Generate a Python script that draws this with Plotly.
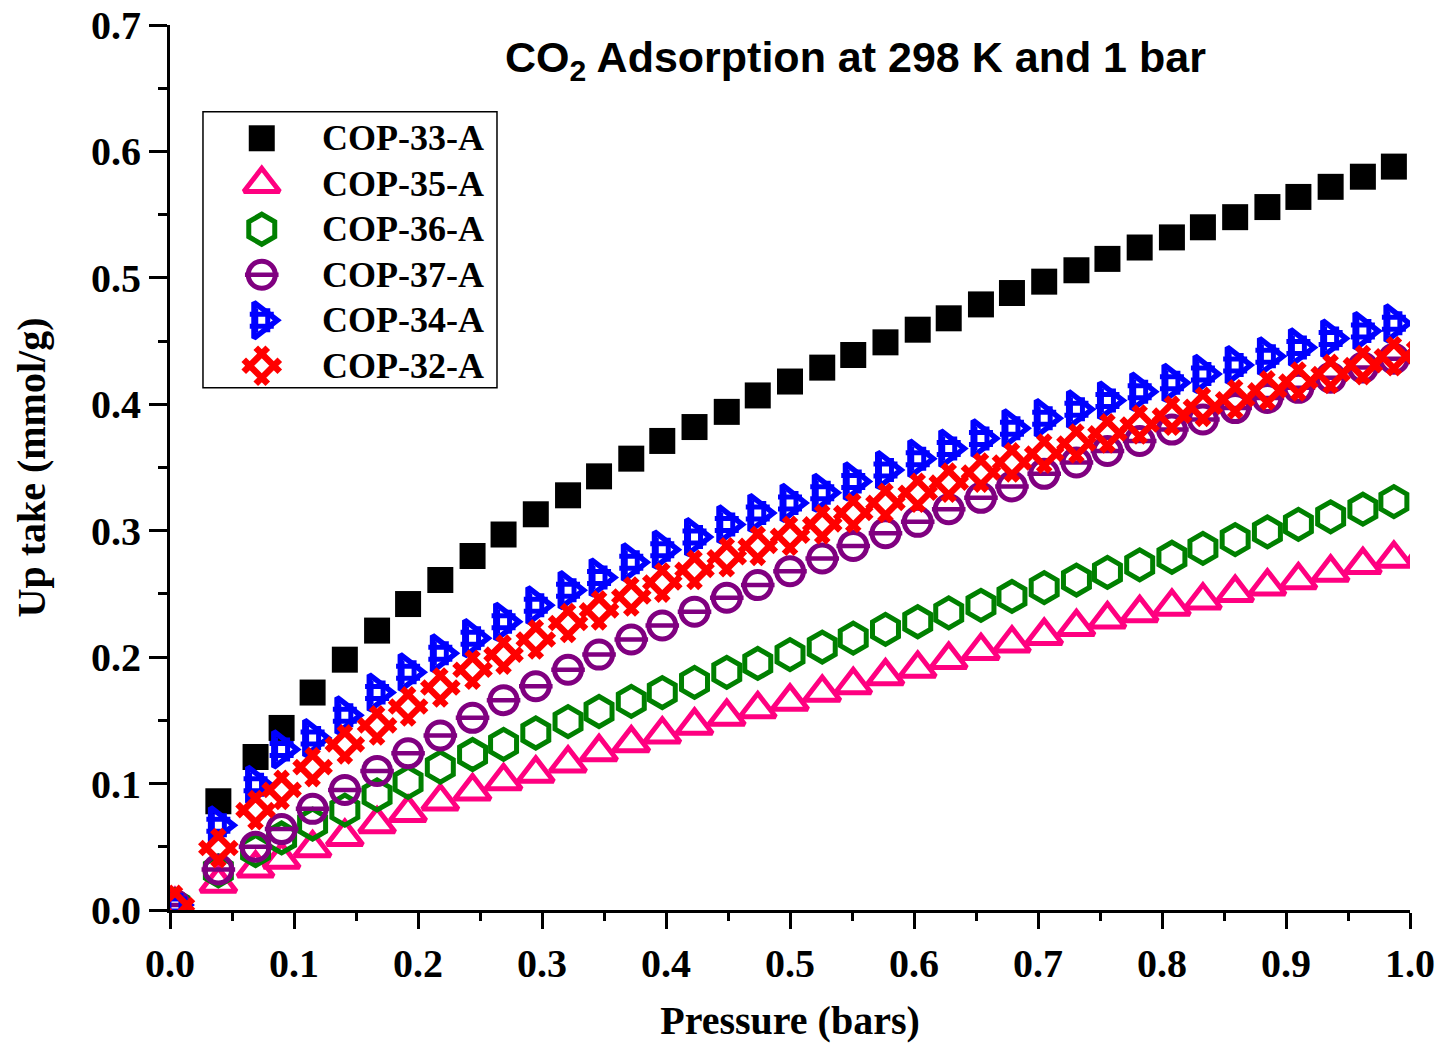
import plotly.graph_objects as go

# CO2 uptake isotherms at 298 K (pressure in bar, uptake in mmol/g)
pressure = [0.004, 0.039, 0.069, 0.090, 0.115, 0.141, 0.167, 0.192, 0.218, 0.244,
            0.269, 0.295, 0.321, 0.346, 0.372, 0.397, 0.423, 0.449, 0.474, 0.500,
            0.526, 0.551, 0.577, 0.603, 0.628, 0.654, 0.679, 0.705, 0.731, 0.756,
            0.782, 0.808, 0.833, 0.859, 0.885, 0.910, 0.936, 0.962, 0.987, 1.013]

cop33 = [0.086, 0.121, 0.144, 0.172, 0.198, 0.221, 0.242, 0.261, 0.280,
         0.297, 0.313, 0.328, 0.343, 0.357, 0.371, 0.382, 0.394, 0.407, 0.418,
         0.429, 0.439, 0.449, 0.459, 0.468, 0.479, 0.488, 0.497, 0.506, 0.515,
         0.524, 0.532, 0.540, 0.548, 0.556, 0.564, 0.572, 0.580, 0.588, 0.596]
cop35 = [0.004, 0.021, 0.033, 0.040, 0.049, 0.058, 0.068, 0.077, 0.086, 0.094,
         0.102, 0.108, 0.116, 0.125, 0.132, 0.139, 0.146, 0.153, 0.159, 0.165,
         0.172, 0.178, 0.185, 0.191, 0.198, 0.205, 0.211, 0.217, 0.224, 0.230,
         0.235, 0.240, 0.245, 0.251, 0.256, 0.261, 0.267, 0.273, 0.278, 0.283]
cop36 = [0.004, 0.031, 0.047, 0.057, 0.068, 0.079, 0.091, 0.101, 0.113, 0.123,
         0.131, 0.140, 0.149, 0.157, 0.165, 0.172, 0.180, 0.188, 0.195, 0.202,
         0.208, 0.215, 0.222, 0.228, 0.235, 0.241, 0.248, 0.255, 0.261, 0.267,
         0.273, 0.279, 0.286, 0.293, 0.299, 0.305, 0.311, 0.317, 0.323, 0.329]
cop37 = [0.004, 0.032, 0.050, 0.064, 0.080, 0.095, 0.110, 0.124, 0.138, 0.152,
         0.166, 0.177, 0.190, 0.202, 0.214, 0.225, 0.236, 0.247, 0.257, 0.268,
         0.278, 0.288, 0.298, 0.307, 0.317, 0.326, 0.335, 0.345, 0.354, 0.363,
         0.371, 0.380, 0.388, 0.397, 0.405, 0.413, 0.421, 0.429, 0.436, 0.443]
cop34 = [0.004, 0.067, 0.099, 0.127, 0.136, 0.154, 0.172, 0.188, 0.203, 0.215,
         0.228, 0.241, 0.253, 0.263, 0.275, 0.285, 0.295, 0.305, 0.314, 0.322,
         0.330, 0.339, 0.348, 0.357, 0.365, 0.373, 0.381, 0.389, 0.396, 0.403,
         0.410, 0.417, 0.424, 0.431, 0.438, 0.445, 0.452, 0.458, 0.464, 0.470]
cop32 = [0.004, 0.049, 0.079, 0.095, 0.113, 0.131, 0.146, 0.161, 0.176, 0.190,
         0.202, 0.214, 0.227, 0.237, 0.248, 0.259, 0.269, 0.279, 0.288, 0.296,
         0.305, 0.314, 0.322, 0.330, 0.338, 0.346, 0.354, 0.361, 0.369, 0.377,
         0.384, 0.391, 0.398, 0.404, 0.411, 0.418, 0.424, 0.431, 0.438, 0.444]

x_ticks = [0.0, 0.1, 0.2, 0.3, 0.4, 0.5, 0.6, 0.7, 0.8, 0.9, 1.0]
y_ticks = [0.0, 0.1, 0.2, 0.3, 0.4, 0.5, 0.6, 0.7]

# Each series: name, x, y, colour, marker layers (symbol, size, line width, angle)
series = [
    ("COP-33-A", pressure[1:], cop33, "#000000", [("square", 26, 0, 0)]),
    ("COP-35-A", pressure, cop35, "#FF0080", [("triangle-up-open", 31, 5, 0)]),
    ("COP-36-A", pressure, cop36, "#008000", [("hexagon-open", 30, 5, 0)]),
    ("COP-37-A", pressure, cop37, "#800080", [("circle-open", 27, 5, 0),
                                               ("line-ew-open", 24, 4.5, 0)]),
    ("COP-34-A", pressure, cop34, "#0000FF", [("triangle-right-open", 31, 5.5, 0),
                                               ("hash-open", 24, 5, 0)]),
    ("COP-32-A", pressure, cop32, "#FF0000", [("hash-open", 34, 6.5, 45)]),
]

fig = go.Figure()

for name, xs, ys, color, layers in series:
    for symbol, size, lw, ang in layers:
        fig.add_trace(go.Scatter(
            x=xs, y=ys, mode="markers", name=name, showlegend=False,
            marker=dict(symbol=symbol, size=size, color=color, angle=ang,
                        line=dict(color=color, width=lw)),
        ))

# Legend keys drawn on a hidden overlay axis spanning the plot area
key_x = 0.074
row_top = 0.872
row_step = 0.0514
for i, (name, xs, ys, color, layers) in enumerate(series):
    ky = row_top - i * row_step
    for symbol, size, lw, ang in layers:
        fig.add_trace(go.Scatter(
            x=[key_x], y=[ky], xaxis="x2", yaxis="y2", mode="markers",
            showlegend=False, hoverinfo="skip",
            marker=dict(symbol=symbol, size=size, color=color, angle=ang,
                        line=dict(color=color, width=lw)),
        ))
    fig.add_annotation(
        x=0.121, y=ky, xref="x2", yref="y2", text=name, showarrow=False,
        xanchor="left", yanchor="middle",
        font=dict(family="Liberation Serif, Times New Roman, serif", size=36,
                  color="black", weight="bold"),
    )

fig.add_shape(type="rect", xref="x2", yref="y2", x0=0.0266, x1=0.2637,
              y0=0.590, y1=0.902, line=dict(color="black", width=1.5),
              fillcolor="rgba(0,0,0,0)", layer="below")

serif_bold = dict(family="Liberation Serif, Times New Roman, serif", size=40,
                  color="black", weight="bold")

fig.add_annotation(
    x=0.553, y=0.960, xref="paper", yref="paper", showarrow=False,
    text="CO<sub>2</sub> Adsorption at 298 K and 1 bar",
    xanchor="center", yanchor="middle",
    font=dict(family="Liberation Sans, Arial, sans-serif", size=43,
              color="black", weight="bold"),
)

axis_common = dict(
    showline=True, linecolor="black", linewidth=3, mirror=False,
    ticks="outside", tickcolor="black", tickwidth=3,
    showgrid=False, zeroline=False, tickformat=".1f",
    tickfont=serif_bold, automargin=False,
)

fig.update_layout(
    width=1449, height=1043,
    margin=dict(l=170, r=39, t=25, b=133),
    paper_bgcolor="white", plot_bgcolor="white",
    showlegend=False,
    xaxis=dict(range=[0, 1.0], tickvals=x_ticks, ticklen=16,
               minor=dict(dtick=0.05, ticklen=8, tickwidth=3, tickcolor="black",
                          ticks="outside"),
               title=dict(text="Pressure (bars)", font=serif_bold, standoff=28),
               **axis_common),
    yaxis=dict(range=[0, 0.7], tickvals=y_ticks, ticklen=18,
               minor=dict(dtick=0.05, ticklen=9, tickwidth=3, tickcolor="black",
                          ticks="outside"),
               title=dict(text="Up take (mmol/g)", font=serif_bold, standoff=34),
               **axis_common),
    xaxis2=dict(range=[0, 1], overlaying="x", visible=False, fixedrange=True),
    yaxis2=dict(range=[0, 1], overlaying="y", visible=False, fixedrange=True),
)

fig.write_html("out.html")
